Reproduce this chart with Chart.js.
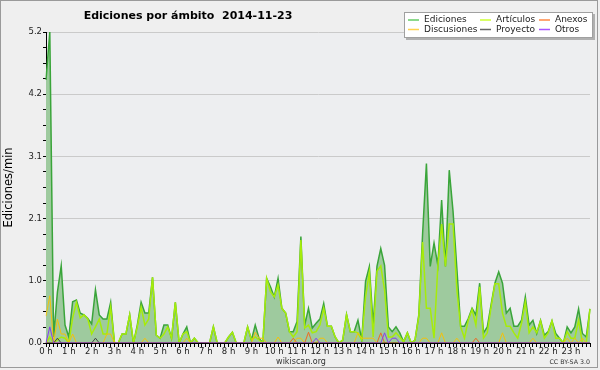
<!DOCTYPE html>
<html>
<head>
<meta charset="utf-8">
<title>Ediciones por ámbito</title>
<script src="https://cdn.jsdelivr.net/npm/chart.js@4.4.0/dist/chart.umd.min.js"></script>
<style>
    html, body { margin: 0; padding: 0; background: #efefef; }
    #wrap { position: relative; width: 600px; height: 370px; }
</style>
</head>
<body>
<div id="wrap"><canvas id="Grafica1" width="600" height="370"></canvas></div>
<script>
// 10 minute buckets, 2014-11-23, edits per minute
var hours = ['0 h', '1 h', '2 h', '3 h', '4 h', '5 h', '6 h', '7 h', '8 h', '9 h', '10 h', '11 h',
    '12 h', '13 h', '14 h', '15 h', '16 h', '17 h', '18 h', '19 h', '20 h', '21 h', '22 h', '23 h'];

var ediciones = [
    4.4, 5.2, 0.1, 0.85, 1.29, 0.3, 0.1, 0.69, 0.72, 0.5, 0.47, 0.41,
    0.32, 0.89, 0.47, 0.4, 0.4, 0.68, 0, 0, 0.15, 0.15, 0.47, 0,
    0.3, 0.68, 0.5, 0.5, 1.1, 0.13, 0.08, 0.3, 0.3, 0.08, 0.68, 0,
    0.15, 0.27, 0, 0.08, 0, 0, 0, 0, 0.27, 0, 0, 0,
    0.1, 0.18, 0, 0, 0, 0.27, 0.05, 0.3, 0.08, 0, 1.08, 0.94,
    0.77, 1.08, 0.58, 0.5, 0.19, 0.19, 0.36, 1.78, 0.3, 0.58, 0.25, 0.33,
    0.4, 0.66, 0.28, 0.28, 0.1, 0, 0.05, 0.48, 0.19, 0.19, 0.38, 0.05,
    1.03, 1.28, 0.3, 1.28, 1.58, 1.3, 0.27, 0.19, 0.27, 0.17, 0.02, 0.17,
    0, 0.05, 0.47, 1.83, 3.0, 1.28, 1.67, 1.3, 2.39, 1.28, 2.89, 2.2,
    1.25, 0.28, 0.28, 0.41, 0.58, 0.47, 1.0, 0.17, 0.27, 0.64, 1.0, 1.19,
    1.0, 0.5, 0.58, 0.28, 0.28, 0.38, 0.77, 0.3, 0.38, 0.16, 0.38, 0.13,
    0.19, 0.37, 0.16, 0.08, 0, 0.27, 0.17, 0.27, 0.57, 0.16, 0.1, 0.57
];
var articulos = [
    0, 0.1, 0, 0.05, 0.1, 0.08, 0, 0.42, 0.68, 0.42, 0.47, 0.4,
    0.15, 0.27, 0.4, 0.15, 0.15, 0.6, 0, 0, 0.15, 0.15, 0.47, 0,
    0.27, 0.6, 0.3, 0.4, 1.1, 0.13, 0.08, 0.15, 0.27, 0.08, 0.68, 0,
    0.15, 0.19, 0, 0.08, 0, 0, 0, 0, 0.27, 0, 0, 0,
    0.1, 0.18, 0, 0, 0, 0.27, 0.05, 0.1, 0.05, 0, 1.08, 0.86,
    0.77, 0.97, 0.58, 0.5, 0.19, 0.1, 0.19, 1.72, 0.25, 0.3, 0.17, 0.19,
    0.3, 0.58, 0.28, 0.28, 0.1, 0, 0.05, 0.47, 0.19, 0.19, 0.17, 0.05,
    0.77, 1.18, 0.1, 1.2, 1.29, 0.89, 0.1, 0.1, 0.17, 0.1, 0.02, 0.17,
    0, 0.05, 0.44, 1.69, 0.58, 0.58, 0.08, 1.28, 1.99, 1.28, 1.99, 1.99,
    0.89, 0.27, 0.08, 0.38, 0.56, 0.3, 0.94, 0.08, 0.17, 0.6, 0.99, 0.99,
    0.5, 0.28, 0.28, 0.17, 0.08, 0.33, 0.69, 0.17, 0.27, 0.17, 0.37, 0.08,
    0.17, 0.37, 0.08, 0.08, 0, 0.19, 0.08, 0.08, 0.38, 0, 0, 0.57
];
var discusiones = [
    0.45, 0.79, 0, 0.4, 0.15, 0.15, 0, 0.15, 0, 0, 0, 0,
    0, 0, 0, 0, 0.15, 0.15, 0, 0, 0, 0, 0, 0,
    0, 0, 0.08, 0, 0, 0, 0, 0, 0, 0, 0, 0,
    0, 0.08, 0, 0, 0, 0, 0, 0, 0, 0, 0, 0,
    0, 0, 0, 0, 0, 0, 0, 0.18, 0.08, 0.08, 0, 0,
    0, 0.1, 0, 0, 0, 0, 0.08, 0.08, 0, 0, 0, 0,
    0.08, 0.08, 0, 0, 0, 0, 0, 0, 0, 0, 0.17, 0.08,
    0.08, 0.08, 0.08, 0, 0, 0, 0, 0, 0, 0, 0, 0,
    0, 0, 0, 0.08, 0.08, 0, 0, 0, 0.17, 0, 0, 0,
    0.08, 0, 0, 0, 0, 0, 0, 0, 0, 0, 0, 0,
    0.17, 0, 0, 0, 0, 0, 0, 0, 0.08, 0, 0, 0,
    0, 0, 0, 0, 0, 0.08, 0, 0.08, 0, 0.08, 0, 0
];
var anexos = [
    0, 0, 0, 0, 0, 0, 0, 0, 0, 0, 0, 0,
    0, 0, 0, 0, 0, 0, 0, 0, 0, 0, 0, 0,
    0, 0, 0, 0, 0, 0, 0, 0, 0, 0, 0, 0,
    0, 0, 0, 0, 0, 0, 0, 0, 0, 0, 0, 0,
    0, 0, 0, 0, 0, 0, 0, 0, 0, 0, 0, 0,
    0, 0, 0, 0, 0, 0.08, 0, 0, 0, 0.18, 0, 0,
    0, 0, 0, 0, 0, 0, 0, 0, 0, 0, 0, 0,
    0, 0, 0, 0, 0.17, 0, 0, 0, 0, 0, 0, 0,
    0, 0, 0, 0, 0, 0, 0, 0, 0, 0, 0, 0,
    0, 0, 0, 0, 0, 0.08, 0, 0, 0, 0, 0, 0,
    0, 0, 0, 0, 0, 0, 0, 0, 0, 0, 0, 0,
    0, 0, 0, 0, 0, 0, 0, 0, 0, 0, 0, 0
];
var proyecto = [
    0, 0, 0, 0.08, 0, 0, 0, 0, 0, 0, 0, 0,
    0, 0.08, 0, 0, 0, 0, 0, 0, 0, 0, 0, 0,
    0, 0, 0, 0, 0, 0, 0, 0, 0, 0, 0, 0,
    0, 0, 0, 0, 0, 0, 0, 0, 0, 0, 0, 0,
    0, 0, 0, 0, 0, 0, 0, 0, 0, 0, 0, 0,
    0, 0, 0, 0, 0, 0, 0, 0, 0, 0, 0, 0,
    0, 0, 0, 0, 0, 0, 0, 0, 0, 0, 0, 0,
    0, 0, 0, 0, 0, 0, 0, 0, 0, 0, 0, 0,
    0, 0, 0, 0, 0, 0, 0, 0, 0, 0, 0, 0,
    0, 0, 0, 0, 0, 0, 0, 0, 0, 0, 0, 0,
    0, 0, 0, 0, 0, 0, 0, 0, 0, 0, 0, 0,
    0, 0, 0, 0, 0, 0, 0, 0, 0, 0, 0, 0
];
var otros = [
    0, 0.27, 0, 0, 0, 0, 0, 0, 0, 0, 0, 0,
    0, 0, 0, 0, 0, 0, 0, 0, 0, 0, 0, 0,
    0, 0, 0, 0, 0, 0, 0, 0, 0, 0, 0, 0,
    0, 0, 0, 0, 0, 0, 0, 0, 0, 0, 0, 0,
    0, 0, 0, 0, 0, 0, 0, 0, 0, 0, 0, 0,
    0, 0, 0, 0, 0, 0, 0, 0, 0, 0, 0, 0.08,
    0, 0, 0, 0, 0, 0, 0, 0, 0, 0, 0, 0,
    0, 0, 0, 0, 0, 0.17, 0, 0.08, 0.08, 0, 0, 0,
    0, 0, 0, 0, 0, 0, 0, 0, 0, 0, 0, 0,
    0, 0, 0, 0, 0, 0, 0, 0, 0, 0, 0, 0,
    0, 0, 0, 0, 0, 0, 0, 0, 0, 0, 0, 0,
    0, 0, 0, 0, 0, 0, 0, 0, 0, 0, 0, 0
];

var seriesNames = ['Ediciones', 'Artículos', 'Anexos', 'Discusiones', 'Proyecto', 'Otros'];
var legendColors = ['#66cc66', '#ccff33', '#ff8844', '#ffd24d', '#666666', '#aa55ff'];

var FONT = '"DejaVu Sans", sans-serif';

// one label per 10 min bucket, only the full hours get text
var labels = [];
for (var i = 0; i < ediciones.length; i++) {
    labels.push(i % 6 === 0 ? hours[i / 6] : '');
}

var framePlugin = {
    id: 'frame',
    beforeDraw: function (chart) {
        var c = chart.ctx, a = chart.chartArea;
        c.save();
        c.fillStyle = '#efefef';
        c.fillRect(0, 0, chart.width, chart.height);
        c.fillStyle = '#edeef0';
        c.fillRect(a.left, a.top, a.right - a.left, a.bottom - a.top);
        c.strokeStyle = '#9a9a9a';
        c.lineWidth = 1;
        c.strokeRect(0.5, 0.5, 597, 367);
        c.restore();
    },
    afterDraw: function (chart) {
        var c = chart.ctx;
        c.save();
        // title
        c.fillStyle = '#000';
        c.font = 'bold 11px ' + FONT;
        c.textAlign = 'center';
        c.textBaseline = 'middle';
        c.fillText('Ediciones por ámbito  2014-11-23', 188, 16);

        // legend box
        c.fillStyle = '#b0b0b0';
        c.fillRect(406, 14, 189, 26);
        c.fillStyle = '#ffffff';
        c.fillRect(404, 12, 189, 26);
        c.strokeStyle = '#a0a0a0';
        c.strokeRect(404.5, 12.5, 188, 25);

        var colX = [408, 480, 539];
        var rowY = [20, 29.5];
        c.font = '9px ' + FONT;
        c.textAlign = 'left';
        for (var k = 0; k < seriesNames.length; k++) {
            var x = colX[k % 3], y = rowY[Math.floor(k / 3)];
            c.strokeStyle = legendColors[k];
            c.lineWidth = 1.5;
            c.beginPath();
            c.moveTo(x, y);
            c.lineTo(x + 11, y);
            c.stroke();
            c.fillStyle = '#222';
            c.fillText(seriesNames[k], x + 16, y);
        }

        // footer
        c.fillStyle = '#333';
        c.font = '8px ' + FONT;
        c.textAlign = 'center';
        c.fillText('wikiscan.org', 301, 362);
        c.font = '6.3px ' + FONT;
        c.textAlign = 'right';
        c.fillText('CC BY-SA 3.0', 590, 362);
        c.restore();
    }
};

function lineSet(label, values, color, width, order) {
    return {
        label: label,
        data: values,
        borderColor: color,
        borderWidth: width,
        pointRadius: 0,
        tension: 0,
        fill: false,
        order: order
    };
}

var ediSet = lineSet('Ediciones', ediciones, '#3aa53a', 1.5, 6);
ediSet.fill = 'origin';
ediSet.backgroundColor = 'rgb(158, 202, 158)';

const ctx = document.getElementById('Grafica1').getContext('2d');
new Chart(ctx, {
    type: 'line',
    data: {
        labels: labels,
        datasets: [
            ediSet,
            lineSet('Artículos', articulos, '#a6ec0a', 1.5, 5),
            lineSet('Discusiones', discusiones, '#f2c20c', 1, 4),
            lineSet('Anexos', anexos, '#ee6a22', 1, 3),
            lineSet('Proyecto', proyecto, '#444444', 1, 2),
            lineSet('Otros', otros, '#8a3cf0', 1, 1)
        ]
    },
    options: {
        responsive: false,
        animation: false,
        devicePixelRatio: 1,
        layout: {
            padding: { top: 32, right: 10, left: 0, bottom: 0 }
        },
        plugins: {
            legend: { display: false },
            tooltip: { enabled: false },
            title: { display: false }
        },
        scales: {
            x: {
                type: 'category',
                offset: false,
                afterFit: function (scale) { scale.height = 27; },
                border: { color: '#000', width: 1 },
                grid: {
                    drawOnChartArea: false,
                    drawTicks: true,
                    tickLength: 4,
                    tickColor: '#000'
                },
                ticks: {
                    autoSkip: false,
                    maxRotation: 0,
                    minRotation: 0,
                    padding: 0,
                    color: '#222',
                    font: { family: FONT, size: 8.5 }
                }
            },
            y: {
                min: 0,
                max: 5.2,
                afterFit: function (scale) { scale.width = 46; },
                border: { color: '#000', width: 1 },
                grid: {
                    color: function (c) {
                        return (c.index > 0 && c.index % 4 === 0) ? '#cacaca' : 'rgba(0,0,0,0)';
                    },
                    tickColor: '#000',
                    tickLength: 3
                },
                ticks: {
                    stepSize: 0.26,
                    autoSkip: false,
                    padding: 1,
                    color: '#222',
                    font: { family: FONT, size: 8.5 },
                    callback: function (value, index) {
                        return index % 4 === 0 ? value.toFixed(1) : '';
                    }
                },
                title: {
                    display: true,
                    text: 'Ediciones/min',
                    color: '#000',
                    font: { family: FONT, size: 11.5 },
                    padding: { top: 2, bottom: 0 }
                }
            }
        }
    },
    plugins: [framePlugin]
});
</script>
</body>
</html>
